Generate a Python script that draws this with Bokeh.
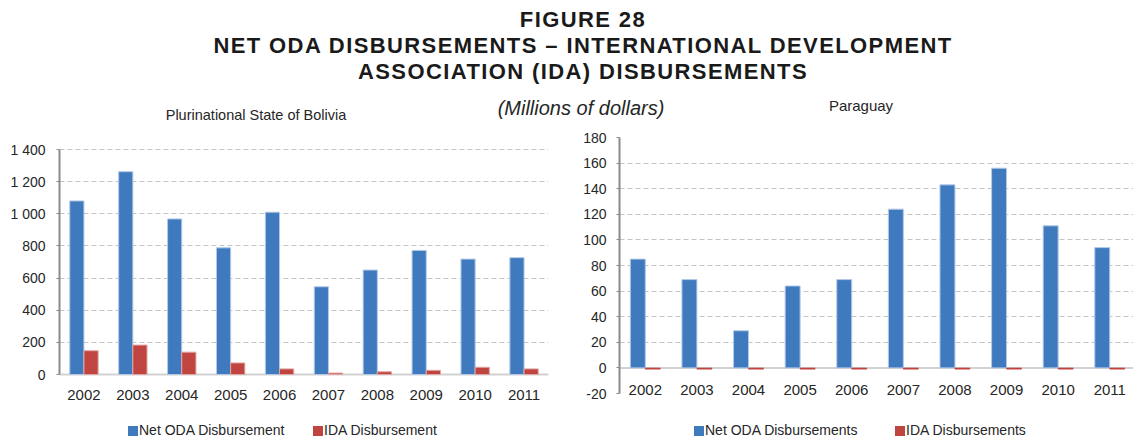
from bokeh.plotting import figure
from bokeh.models import Range1d, FixedTicker, Span, Div
from bokeh.transform import dodge
from bokeh.layouts import column, row
from bokeh.embed import file_html
from bokeh.resources import INLINE

# ---------------- data ----------------
years = ["2002", "2003", "2004", "2005", "2006", "2007", "2008", "2009", "2010", "2011"]
bolivia_net_oda = [1080, 1262, 968, 788, 1010, 546, 650, 772, 718, 727]
bolivia_ida = [148, 183, 139, 72, 35, 9, 17, 26, 45, 35]
paraguay_net_oda = [85, 69, 29, 64, 69, 124, 143, 156, 111, 94]
paraguay_ida = [-1, -1, -1, -1, -1, -1, -1, -1, -1, -1]
bolivia_yticks = [0, 200, 400, 600, 800, 1000, 1200, 1400]
paraguay_yticks = [-20, 0, 20, 40, 60, 80, 100, 120, 140, 160, 180]
bolivia_legend = ["Net ODA Disbursement", "IDA Disbursement"]
paraguay_legend = ["Net ODA Disbursements", "IDA Disbursements"]

FONT = "Liberation Sans"
BLUE = "#3f7abf"
RED = "#c0443f"
TXT = "#262626"

idx = list(range(len(years)))

# shared frame (rows align plot frames): page pixels
FRAME_TOP, FRAME_BOTTOM = 137, 393
FIG_TOP, FIG_H = 120, 298


def thousands(v):
    return f"{v:,}".replace(",", " ")


def make_chart(width, border_lr, y_range, x_end, yticks, net, ida,
               xstandoff, ystandoff, thin_red):
    p = figure(width=width, height=FIG_H, output_backend="svg",
               toolbar_location=None, x_range=Range1d(-0.5, x_end),
               y_range=Range1d(*y_range))
    p.min_border_left, p.min_border_right = border_lr
    p.min_border_top = FRAME_TOP - FIG_TOP
    p.min_border_bottom = FIG_TOP + FIG_H - FRAME_BOTTOM
    p.outline_line_color = None
    p.background_fill_color = "white"
    p.border_fill_color = "white"

    src = dict(x=idx, net=net, ida=ida)
    p.vbar(x=dodge("x", -0.145, range=p.x_range), top="net", width=0.29,
           source=src, fill_color=BLUE, line_color="#b3c9e6", line_width=1)
    if thin_red:
        p.vbar(x=dodge("x", 0.145, range=p.x_range), top="ida", bottom=0,
               width=0.29, source=src, fill_color=RED, line_color=RED,
               line_width=0.5)
    else:
        p.vbar(x=dodge("x", 0.145, range=p.x_range), top="ida", width=0.29,
               source=src, fill_color=RED, line_color="#e0a6a4", line_width=1)

    # grid
    p.xgrid.visible = False
    p.ygrid.ticker = FixedTicker(ticks=yticks)
    p.ygrid.grid_line_color = "#c4c4c4"
    p.ygrid.grid_line_dash = "5 3"
    p.ygrid.grid_line_width = 1

    # y axis
    ya = p.yaxis[0]
    ya.ticker = FixedTicker(ticks=yticks)
    ya.bounds = (yticks[0], yticks[-1])
    ya.major_label_overrides = {t: thousands(t) for t in yticks}
    ya.axis_line_color = "#8a8a8a"
    ya.axis_line_width = 2
    ya.major_tick_line_color = "#8a8a8a"
    ya.major_tick_out = 3
    ya.major_tick_in = 0
    ya.minor_tick_line_color = None
    ya.major_label_text_font = FONT
    ya.major_label_text_font_size = "14px"
    ya.major_label_text_color = TXT
    ya.major_label_standoff = ystandoff

    # x axis
    xa = p.xaxis[0]
    xa.ticker = FixedTicker(ticks=idx)
    xa.major_label_overrides = {i: y for i, y in zip(idx, years)}
    xa.major_tick_line_color = None
    xa.minor_tick_line_color = None
    xa.axis_line_color = None
    xa.major_label_text_font = FONT
    xa.major_label_text_font_size = "15px"
    xa.major_label_text_color = TXT
    xa.major_label_standoff = xstandoff
    p.add_layout(Span(location=0, dimension="width", line_color="#d2d2d2",
                      line_width=2, level="underlay"))
    return p


# Bolivia: 0 at y=374 px, 1 400 at y=149 px inside the shared frame
b_ppu = (374 - 149) / (bolivia_yticks[-1] - bolivia_yticks[0])
b_range = (bolivia_yticks[0] - (FRAME_BOTTOM - 374) / b_ppu,
           bolivia_yticks[-1] + (149 - FRAME_TOP) / b_ppu)

left = make_chart(580, (59, 32), b_range, 9.5, bolivia_yticks,
                  bolivia_net_oda, bolivia_ida, -10, 11, False)

right = make_chart(553, (37, 0), (paraguay_yticks[0], paraguay_yticks[-1]), 9.46,
                   paraguay_yticks, paraguay_net_oda, paraguay_ida, -15, 10, True)

header_html = f"""
<div style="position:relative;width:1133px;height:120px;font-family:'{FONT}';color:#1a1a1a;">
  <div style="position:absolute;left:583px;top:7px;transform:translateX(-50%);white-space:nowrap;
       text-align:center;font-weight:bold;font-size:22px;line-height:26px;letter-spacing:1.4px;">
    FIGURE 28<br>NET ODA DISBURSEMENTS &ndash; INTERNATIONAL DEVELOPMENT<br>ASSOCIATION (IDA) DISBURSEMENTS
  </div>
  <div style="position:absolute;left:581px;top:96px;transform:translateX(-50%);white-space:nowrap;
       font-style:italic;font-size:20px;line-height:24px;color:#262626;">(Millions of dollars)</div>
  <div style="position:absolute;left:256px;top:106px;transform:translateX(-50%);white-space:nowrap;
       font-size:14.5px;line-height:18px;color:#262626;">Plurinational State of Bolivia</div>
  <div style="position:absolute;left:861px;top:97px;transform:translateX(-50%);white-space:nowrap;
       font-size:15px;line-height:18px;color:#262626;">Paraguay</div>
</div>
"""
header = Div(text=header_html, width=1133, height=120, margin=0)


def legend_item(x, color, label):
    return (f'<div style="position:absolute;left:{x}px;top:2px;height:20px;line-height:20px;'
            f'white-space:nowrap;font-size:14px;color:{TXT};">'
            f'<span style="display:inline-block;width:10px;height:10px;background:{color};'
            f'vertical-align:-1px;margin-right:1px;"></span>{label}</div>')


legend_html = (f'<div style="position:relative;width:1133px;height:20px;font-family:\'{FONT}\';">'
               + legend_item(128, BLUE, bolivia_legend[0])
               + legend_item(313, RED, bolivia_legend[1])
               + legend_item(694, BLUE, paraguay_legend[0])
               + legend_item(895, RED, paraguay_legend[1])
               + '</div>')
legend_div = Div(text=legend_html, width=1133, height=20, margin=0)

layout = column(header, row(left, right, spacing=0), legend_div, spacing=0)

open("out.html", "w").write(file_html(layout, INLINE))
